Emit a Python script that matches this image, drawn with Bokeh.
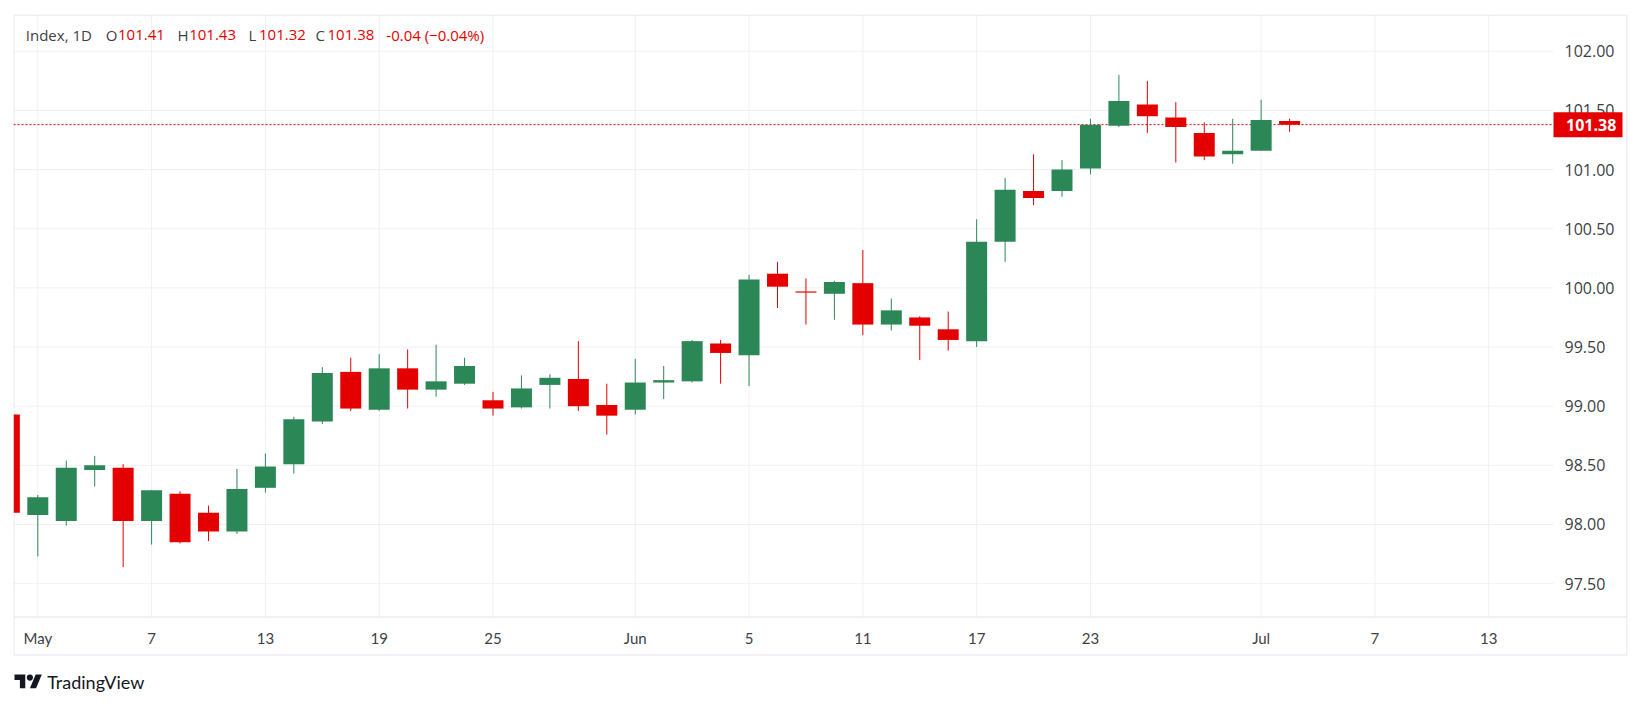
import math
from bokeh.plotting import figure
from bokeh.models import (Range1d, FixedTicker, NumeralTickFormatter, Label,
                          ColumnDataSource)
from bokeh.core.properties import value
from bokeh.embed import file_html
from bokeh.resources import INLINE

# ---------------- data ----------------
candle_index = list(range(-1, 45))
opens = [98.93, 98.08, 98.03, 98.46, 98.48, 98.03, 98.26, 98.10, 97.94, 98.31,
         98.51, 98.87, 99.29, 98.97, 99.32, 99.14, 99.19, 99.05, 98.99, 99.18,
         99.23, 99.01, 98.97, 99.20, 99.21, 99.53, 99.43, 100.12, 99.97, 99.95,
         100.04, 99.69, 99.75, 99.65, 99.55, 100.39, 100.82, 100.82, 101.01, 101.37,
         101.55, 101.44, 101.31, 101.13, 101.16, 101.41]
highs = [98.95, 98.25, 98.54, 98.58, 98.51, 98.29, 98.28, 98.16, 98.47, 98.60,
         98.91, 99.33, 99.41, 99.44, 99.48, 99.52, 99.41, 99.12, 99.26, 99.27,
         99.55, 99.19, 99.40, 99.34, 99.56, 99.56, 100.11, 100.22, 100.08, 100.06,
         100.32, 99.91, 99.76, 99.80, 100.58, 100.93, 101.13, 101.08, 101.43, 101.80,
         101.75, 101.57, 101.40, 101.43, 101.59, 101.43]
lows = [98.05, 97.73, 97.99, 98.32, 97.64, 97.83, 97.84, 97.86, 97.92, 98.27,
        98.43, 98.85, 98.96, 98.96, 98.98, 99.08, 99.18, 98.92, 98.98, 98.98,
        98.96, 98.76, 98.93, 99.06, 99.20, 99.19, 99.17, 99.83, 99.69, 99.73,
        99.60, 99.64, 99.39, 99.47, 99.50, 100.22, 100.70, 100.77, 100.96, 101.36,
        101.31, 101.06, 101.08, 101.05, 101.16, 101.32]
closes = [98.10, 98.23, 98.48, 98.50, 98.03, 98.29, 97.85, 97.94, 98.30, 98.49,
          98.89, 99.28, 98.98, 99.32, 99.14, 99.21, 99.34, 98.98, 99.15, 99.24,
          99.00, 98.92, 99.20, 99.22, 99.55, 99.45, 100.07, 100.01, 99.96, 100.05,
          99.69, 99.81, 99.68, 99.56, 100.39, 100.83, 100.76, 101.00, 101.38, 101.58,
          101.45, 101.36, 101.11, 101.16, 101.42, 101.38]

price_ticks = [97.5, 98.0, 98.5, 99.0, 99.5, 100.0, 100.5, 101.0, 101.5, 102.0]
date_tick_index = [0, 4, 8, 12, 16, 21, 25, 29, 33, 37, 43, 47, 51]
date_tick_labels = ["May", "7", "13", "19", "25", "Jun", "5", "11", "17", "23", "Jul", "7", "13"]
symbol_label = "Index, 1D"
change_label = "-0.04 (\u22120.04%)"
brand = "TradingView"

# ---------------- styling ----------------
UP = "#2c8757"
DOWN = "#e50000"
TEXT = "#3d3f45"
GRID = "#f0f1f4"
BORDER = "#e0e3eb"
DARK = "#131722"

PX_PER_X = 28.45
PX_PER_Y = 118.3
X0 = (13 - 37.3) / PX_PER_X          # frame left  (px 13)
X1 = (1627 - 37.3) / PX_PER_X        # frame right (px 1627)
XP = (1553 - 37.3) / PX_PER_X        # end of the price pane (px 1553)
Y1 = 102.311                         # frame top   (px 14)
Y0 = Y1 - (705 - 14) / PX_PER_Y      # frame bottom (px 705)


def xd(px):
    return X0 + (px - 13) / PX_PER_X


def yd(py):
    return Y1 - (py - 14) / PX_PER_Y


YT = yd(617)  # time-scale separator

p = figure(width=1641, height=705, x_range=Range1d(X0, X1), y_range=Range1d(Y0, Y1),
           y_axis_location="right", toolbar_location=None, tools="",
           output_backend="svg", min_border_left=13, min_border_top=14,
           min_border_right=14, min_border_bottom=0,
           background_fill_color="white", border_fill_color="white",
           outline_line_color=None)
p.grid.visible = False

# grid lines of the price pane
p.segment(x0=X0, x1=XP, y0=price_ticks, y1=price_ticks, line_color=GRID, line_width=1)
p.segment(x0=date_tick_index, x1=date_tick_index, y0=YT, y1=Y1, line_color=GRID,
          line_width=1)

# chart border and time-scale separator
xl, xr = xd(13.5), xd(1626.5)
yt, yb, ys = yd(14.5), yd(654.5), yd(616.5)
p.segment(x0=[xl, xl, xl, xr, xl], x1=[xr, xr, xl, xr, xr],
          y0=[yt, yb, yt, yt, ys], y1=[yt, yb, yb, yb, ys],
          line_color=BORDER, line_width=1)

ya = p.yaxis[0]
ya.ticker = FixedTicker(ticks=price_ticks)
ya.formatter = NumeralTickFormatter(format="0.00")
ya.axis_line_color = None
ya.major_tick_line_color = None
ya.minor_tick_line_color = None
ya.major_tick_out = 0
ya.major_tick_in = 0
ya.major_label_standoff = -63
ya.major_label_text_font = "Open Sans"
ya.major_label_text_font_size = "16px"
ya.major_label_text_color = TEXT

xa = p.xaxis[0]
xa.ticker = FixedTicker(ticks=date_tick_index)
xa.major_label_overrides = {i: s for i, s in zip(date_tick_index, date_tick_labels)}
xa.axis_line_color = None
xa.major_tick_line_color = None
xa.minor_tick_line_color = None
xa.major_tick_out = 0
xa.major_tick_in = 0
xa.major_label_standoff = -77
xa.major_label_text_font = "Lato"
xa.major_label_text_font_size = "15px"
xa.major_label_text_color = TEXT

# last price line
last = closes[-1]
p.segment(x0=X0, x1=XP, y0=last, y1=last, line_color=DOWN, line_width=1, line_dash="2 2")

# candles
colors = [UP if c >= o else DOWN for o, c in zip(opens, closes)]
src = ColumnDataSource(dict(
    x=candle_index, high=highs, low=lows,
    top=[max(o, c) for o, c in zip(opens, closes)],
    bottom=[min(o, c) for o, c in zip(opens, closes)],
    color=colors))
p.segment(x0="x", y0="low", x1="x", y1="high", line_color="color", line_width=1, source=src)
p.vbar(x="x", width=0.738, top="top", bottom="bottom", fill_color="color",
       line_color=None, source=src)

# last price tag on the scale (drawn above the scale labels)
tag_half = 12.5 / PX_PER_Y
p.quad(left=XP, right=xd(1622), bottom=last - tag_half, top=last + tag_half,
       fill_color=DOWN, line_color=None, level="annotation")
p.add_layout(Label(x=xd(1565.5), y=last, text=f"{last:.2f}", text_color="white",
                   text_font="Open Sans", text_font_size="16px", text_font_style="bold",
                   text_align="left", text_baseline="middle", level="overlay"))

# legend line
o, h, l, c = opens[-1], highs[-1], lows[-1], closes[-1]
segments = [(symbol_label, 25.3, TEXT), ("O", 105.2, TEXT), (f"{o:.2f}", 117.5, DOWN),
            ("H", 177.0, TEXT), (f"{h:.2f}", 188.7, DOWN), ("L", 248.0, TEXT),
            (f"{l:.2f}", 258.5, DOWN), ("C", 315.0, TEXT), (f"{c:.2f}", 327.0, DOWN),
            (change_label, 385.8, DOWN)]
for txt, px, col in segments:
    p.add_layout(Label(x=xd(px), y=yd(34.3), text=txt, text_color=col,
                       text_font="Open Sans", text_font_size="15px",
                       text_align="left", text_baseline="middle"))

# ---------------- brand mark ----------------
s = 0.77
ox, oy = 14.0, 674.0 - 4 * s
t_shape = [(0, 4), (14, 4), (14, 22), (7, 22), (7, 11), (0, 11)]
slash = [(20, 22), (27.5, 4), (35.5, 4), (28, 22)]
p.patches(xs=[[xd(ox + a * s) for a, b in t_shape], [xd(ox + a * s) for a, b in slash]],
          ys=[[yd(oy + b * s) for a, b in t_shape], [yd(oy + b * s) for a, b in slash]],
          fill_color=DARK, line_color=None)
p.circle(x=[xd(ox + 20 * s)], y=[yd(oy + 8 * s)], radius=4 * s / PX_PER_X,
         fill_color=DARK, line_color=None)
p.text(x=[xd(46.7)], y=[yd(681)], text=[brand], text_font=value("Lato"),
       text_font_size="18px", text_align="left", text_baseline="middle", text_color=DARK)

open("out.html", "w").write(file_html(p, INLINE))
